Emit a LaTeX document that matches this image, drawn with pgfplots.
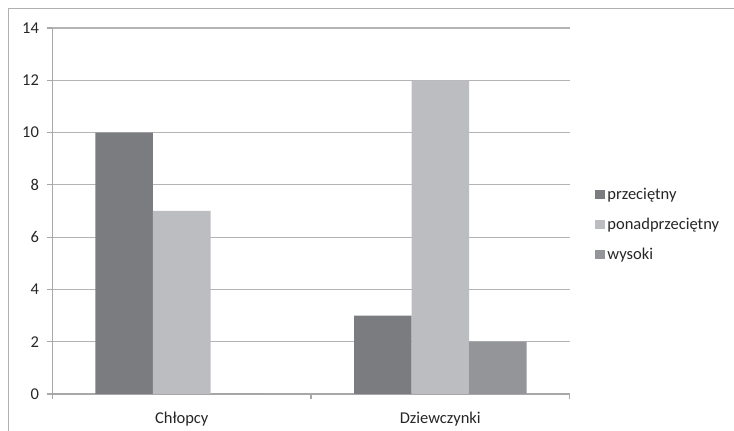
\documentclass[border=0pt]{standalone}
\usepackage{pgfplots}
\pgfplotsset{compat=1.18}
\usepackage{fontspec}
\setmainfont{Carlito}
\definecolor{c1}{HTML}{7B7C80}
\definecolor{c2}{HTML}{BCBDC1}
\definecolor{c3}{HTML}{949599}
\definecolor{gridc}{HTML}{B4B4B4}
\definecolor{axisc}{HTML}{A8A8A8}
\definecolor{framec}{HTML}{B0B0B0}
\definecolor{textc}{HTML}{262626}
\pgfplotsset{sq/.style={legend image code/.code={\fill[##1,draw=none] (0pt,-4.5pt) rectangle (10pt,4.5pt);}}}
\begin{document}
\begin{tikzpicture}
\useasboundingbox (-52.5pt,-37pt) rectangle (681.5pt,394pt);
\draw[color=framec, line width=1pt] (-44pt,-45pt) -- (-44pt,385pt) -- (700pt,385pt);
\begin{axis}[
  scale only axis, width=517pt, height=366pt,
  ymin=0, ymax=14, ytick={0,2,...,14},
  xmin=-0.5, xmax=1.5,
  xtick={-0.5,0.5,1.5}, x tick label as interval,
  xticklabels={Chłopcy,Dziewczynki},
  ybar=0pt, bar width=57.5pt,
  axis x line*=bottom, axis y line*=left,
  ymajorgrids, grid style={color=gridc, line width=1.2pt},
  axis line style={color=axisc, line width=1.2pt},
  tick style={color=axisc, line width=1.2pt},
  tick align=outside, major tick length=5pt,
  /pgf/number format/assume math mode=true,
  font=\fontsize{16.5}{20}\selectfont,
  tick label style={font=\fontsize{16.5}{20}\selectfont, text=textc},
  yticklabel style={xshift=-5pt},
  xticklabel style={yshift=-10pt},
  legend style={at={(1.044,0.463)}, anchor=west, draw=none, fill=none,
    font=\fontsize{16.5}{20}\selectfont, text=textc, row sep=13pt,
    nodes={inner sep=2pt}},
  legend cell align=left,
]
\addplot[fill=c1, draw=none, sq] coordinates {(0,10) (1,3)};
\addplot[fill=c2, draw=none, sq] coordinates {(0,7) (1,12)};
\addplot[fill=c3, draw=none, sq] coordinates {(0,0) (1,2)};
\legend{przeciętny,ponadprzeciętny,wysoki}
\end{axis}
\end{tikzpicture}
\end{document}
